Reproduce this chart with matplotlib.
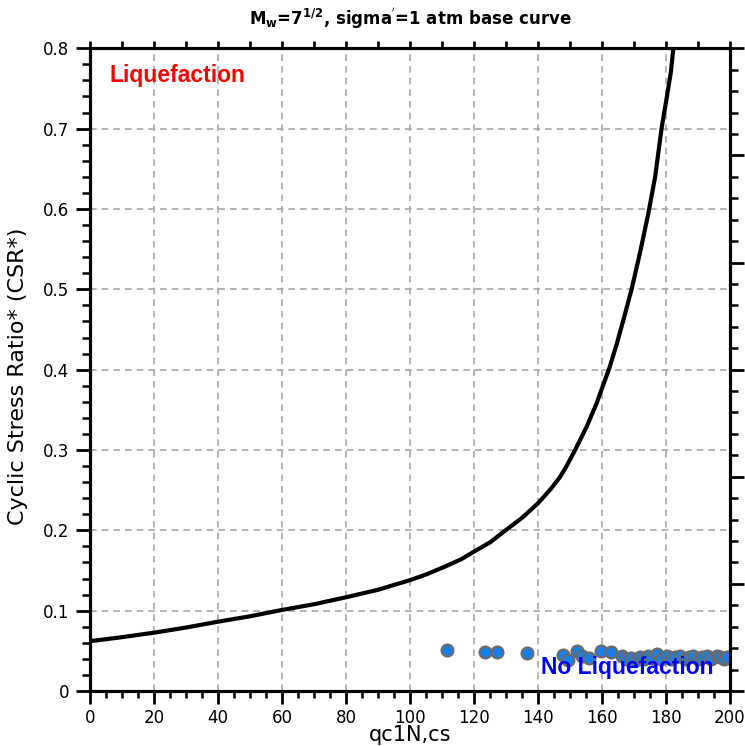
import matplotlib
matplotlib.use("Agg")
import matplotlib.pyplot as plt
from matplotlib.ticker import MultipleLocator

curve_q = [0, 10, 20, 30, 40, 50, 60, 70, 80, 90, 100, 105, 111, 116, 120, 125, 129.2,
           135, 140, 144, 146.9, 149, 151.6, 155.2, 158.3, 160.2, 162.3, 164.6,
           166.7, 169.3, 171.9, 174.5, 176.6, 178.6, 180.2, 181.5, 182.3]
curve_csr = [0.062, 0.067, 0.0726, 0.079, 0.0863, 0.093, 0.1009, 0.108, 0.1167, 0.126,
             0.138, 0.145, 0.155, 0.164, 0.1735, 0.185, 0.198, 0.2155, 0.2337, 0.2515,
             0.2665, 0.2805, 0.300, 0.329, 0.358, 0.379, 0.402, 0.432,
             0.462, 0.501, 0.546, 0.595, 0.640, 0.700, 0.738, 0.770, 0.800]

# Case data points
pts_q = [111.7, 123.4, 127.1, 136.5, 147.9, 149.5, 152.1, 153.7, 156.0, 159.6, 162.7,
         166.1, 167.5, 169.0, 170.5, 172.0, 173.0, 174.5, 175.5, 177.3, 178.5, 180.2,
         181.5, 182.8, 184.4, 186.0, 187.3, 188.5, 190.0, 191.3, 192.7, 194.0, 195.8,
         196.9, 198.0, 199.0]
pts_csr = [0.051, 0.049, 0.049, 0.047, 0.045, 0.039, 0.050, 0.043, 0.041, 0.050, 0.048,
           0.0436, 0.040, 0.041, 0.039, 0.042, 0.040, 0.0436, 0.041, 0.046, 0.040, 0.043,
           0.040, 0.042, 0.043, 0.040, 0.042, 0.0436, 0.040, 0.042, 0.043, 0.040, 0.043,
           0.042, 0.040, 0.042]

fig = plt.figure(figsize=(7.45, 7.46), dpi=100)
ax = fig.add_axes([0.1208, 0.0737, 0.8591, 0.8616])

ax.set_xlim(0, 200)
ax.set_ylim(0, 0.8)
ax.xaxis.set_major_locator(MultipleLocator(20))
ax.xaxis.set_minor_locator(MultipleLocator(5))
ax.yaxis.set_major_locator(MultipleLocator(0.1))
ax.yaxis.set_minor_locator(MultipleLocator(0.02))
ax.yaxis.set_major_formatter(plt.FuncFormatter(lambda v, p: "0" if abs(v) < 1e-9 else f"{v:.1f}"))
ax.grid(True, which="major", color="#a8a8a8", linestyle=(0, (4, 3)), linewidth=1.2)
ax.set_axisbelow(True)
ax.tick_params(which="major", direction="out", length=10, width=2, labelsize=12, color="black")
ax.tick_params(which="minor", direction="out", length=6, width=1.8)
ax.tick_params(axis="y", which="major", pad=5)
ax.tick_params(axis="x", which="major", length=9, pad=4)
ax.tick_params(axis="x", which="minor", length=5)
for s in ax.spines.values():
    s.set_linewidth(2.2)

ax.plot(curve_q, curve_csr, color="black", linewidth=3.0, zorder=3,
        solid_capstyle="butt", solid_joinstyle="round")
ax.plot(pts_q, pts_csr, linestyle="none", marker="o", markersize=8.5,
        markerfacecolor="#1780ee", markeredgecolor="#6a6a6a", markeredgewidth=1.6, zorder=4)

ax.text(6.25, 0.758, "Liquefaction", color="#ff0000", fontsize=16.5, fontweight="bold",
        family="Liberation Sans", ha="left", va="baseline", zorder=5)
ax.text(141, 0.021, "No Liquefaction", color="#0000ff", fontsize=16.5, fontweight="bold",
        family="Liberation Sans", ha="left", va="baseline", zorder=5)

ax.set_xlabel("qc1N,cs", fontsize=15)
ax.xaxis.set_label_coords(0.5, -0.069)
ax.xaxis.label.set_va("center")
ax.set_ylabel("Cyclic Stress Ratio* (CSR*)", fontsize=16)
ax.yaxis.set_label_coords(-0.113, 0.49)
ax.yaxis.label.set_va("center")
ax.set_title(r"M$_\mathbf{w}$=7$^\mathbf{1/2}$, sigma$^{\mathbf{'}}$=1 atm base curve",
             fontsize=12, fontweight="bold", pad=17)

# right axis ticks
axr = ax.twinx()
axr.set_ylim(0, 6)
axr.yaxis.set_major_locator(MultipleLocator(1))
axr.yaxis.set_minor_locator(MultipleLocator(0.2))
axr.tick_params(which="major", direction="out", length=10, width=2, labelright=False)
axr.tick_params(which="minor", direction="out", length=6, width=1.8)
for s in axr.spines.values():
    s.set_linewidth(2.2)

# top axis ticks
axt = ax.twiny()
axt.set_xlim(0, 200)
axt.xaxis.set_major_locator(MultipleLocator(10))
axt.xaxis.set_minor_locator(plt.NullLocator())
axt.tick_params(which="major", direction="out", length=5, width=2, labeltop=False)
for s in axt.spines.values():
    s.set_linewidth(2.2)

fig.savefig("out.png", dpi=100)
